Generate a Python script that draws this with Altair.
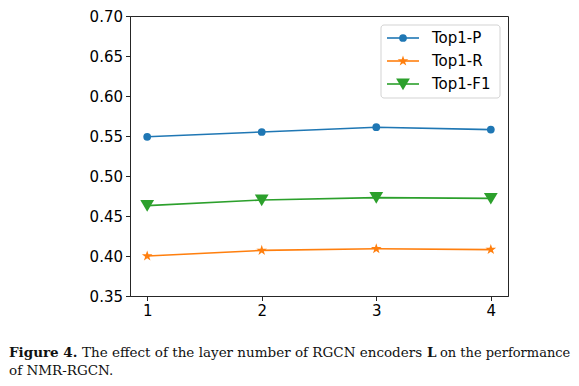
import altair as alt
import pandas as pd

layers = [1, 2, 3, 4]
series = ["Top1-P", "Top1-R", "Top1-F1"]
top1_p = [0.549, 0.555, 0.561, 0.558]
top1_r = [0.400, 0.407, 0.409, 0.408]
top1_f1 = [0.463, 0.470, 0.473, 0.472]
colors = ["#1f77b4", "#ff7f0e", "#2ca02c"]
y_ticks = [0.35, 0.40, 0.45, 0.50, 0.55, 0.60, 0.65, 0.70]
x_ticks = [1, 2, 3, 4]

STAR = ("M0,-1L0.225,-0.309L0.951,-0.309L0.363,0.118L0.588,0.809L0,0.382"
        "L-0.588,0.809L-0.363,0.118L-0.951,-0.309L-0.225,-0.309Z")
TRI_DOWN = "M-1,-0.8L1,-0.8L0,0.9Z"
shapes = ["circle", STAR, TRI_DOWN]
sizes = [60, 190, 82]

rows = []
for name, vals in zip(series, [top1_p, top1_r, top1_f1]):
    for l, v in zip(layers, vals):
        rows.append({"layer": l, "value": v, "series": name})
df = pd.DataFrame(rows)

W, H = 378, 280
xs = alt.Scale(domain=[0.85, 4.15], nice=False, zero=False)
ys = alt.Scale(domain=[0.35, 0.70], nice=False, zero=False)
cs = alt.Scale(domain=series, range=colors)
ss = alt.Scale(domain=series, range=shapes)
szs = alt.Scale(domain=series, range=sizes)

base = alt.Chart(df)
lines = base.mark_line(strokeWidth=1.6).encode(
    x=alt.X("layer:Q", scale=xs, axis=alt.Axis(values=x_ticks, format="d", title=None)),
    y=alt.Y("value:Q", scale=ys, axis=alt.Axis(values=y_ticks, format=".2f", title=None)),
    color=alt.Color("series:N", scale=cs, legend=None),
    detail="series:N",
)
points = base.mark_point(filled=True, opacity=1).encode(
    x=alt.X("layer:Q", scale=xs),
    y=alt.Y("value:Q", scale=ys, axis=None),
    color=alt.Color("series:N", scale=cs, legend=None),
    shape=alt.Shape("series:N", scale=ss, legend=None),
    size=alt.Size("series:N", scale=szs, legend=None),
)

# legend
one = alt.Chart(pd.DataFrame({"a": [0]}))
box = one.mark_rect(fill="white", stroke="#d3d3d3", strokeWidth=1, cornerRadius=3).encode(
    x=alt.value(251), x2=alt.value(370), y=alt.value(9), y2=alt.value(82)
)
leg_df = pd.DataFrame({"series": series})
ly = alt.Scale(type="point", domain=series, range=[22, 68], padding=0)
leg_base = alt.Chart(leg_df)
leg_rule = leg_base.mark_rule(strokeWidth=1.6).encode(
    x=alt.value(257), x2=alt.value(289),
    y=alt.Y("series:N", scale=ly, axis=None),
    color=alt.Color("series:N", scale=cs, legend=None),
)
leg_pt = leg_base.mark_point(filled=True, opacity=1).encode(
    x=alt.value(273),
    y=alt.Y("series:N", scale=ly, axis=None),
    color=alt.Color("series:N", scale=cs, legend=None),
    shape=alt.Shape("series:N", scale=ss, legend=None),
    size=alt.Size("series:N", scale=szs, legend=None),
)
leg_txt = leg_base.mark_text(align="left", baseline="middle", font="DejaVu Sans",
                             fontSize=15, color="black").encode(
    x=alt.value(302),
    y=alt.Y("series:N", scale=ly, axis=None),
    text="series:N",
)

# caption
cap_font = "DejaVu Serif"
def cap(txt, x, y, bold=False, size=13.5):
    return one.mark_text(align="left", baseline="alphabetic", font=cap_font, fontSize=size,
                         fontWeight="bold" if bold else "normal", color="#111").encode(
        x=alt.value(x), y=alt.value(y), text=alt.value(txt))

caps = [
    cap("Figure 4.", 9 - 130, 357 - 16, True),
    cap("The effect of the layer number of RGCN encoders", 82 - 130, 357 - 16),
    cap("L", 427 - 130, 357 - 16, True),
    cap("on the performance", 440 - 130, 357 - 16, size=13),
    cap("of NMR-RGCN.", 9 - 130, 375 - 16),
]

chart = alt.layer(lines, points, box, leg_rule, leg_pt, leg_txt, *caps).resolve_scale(
    y="independent"
).properties(
    width=W, height=H,
    autosize=alt.AutoSizeParams(type="none"),
    padding={"left": 122, "top": 8, "right": 63, "bottom": 82},
).configure_view(stroke="#262626", strokeWidth=1).configure_axis(
    labelFont="DejaVu Sans", labelFontSize=15, labelColor="black",
    tickColor="#262626", domainColor="#262626", tickSize=4.5, labelPadding=3,
    grid=False, domainWidth=1, tickWidth=1,
)

chart.save("out.html", embed_options={"renderer": "svg", "actions": False})
